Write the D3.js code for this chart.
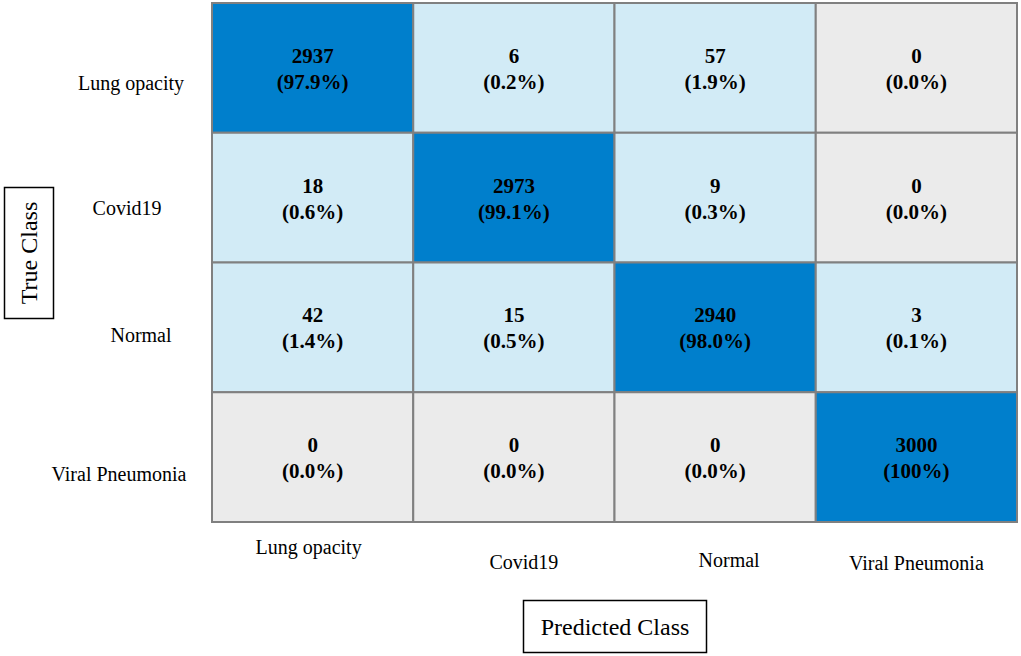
<!DOCTYPE html>
<html><head><meta charset="utf-8">
<script src="https://cdn.jsdelivr.net/npm/d3@7/dist/d3.min.js"></script>
<style>body{margin:0;background:#fff}svg{display:block}</style>
</head><body>
<svg id="c" width="1021" height="656"></svg>
<script>
const trueClasses = ["Lung opacity", "Covid19", "Normal", "Viral Pneumonia"];
const predClasses = ["Lung opacity", "Covid19", "Normal", "Viral Pneumonia"];
const counts = [
  [2937, 6, 57, 0],
  [18, 2973, 9, 0],
  [42, 15, 2940, 3],
  [0, 0, 0, 3000]
];
const percents = [
  ["97.9%", "0.2%", "1.9%", "0.0%"],
  ["0.6%", "99.1%", "0.3%", "0.0%"],
  ["1.4%", "0.5%", "98.0%", "0.1%"],
  ["0.0%", "0.0%", "0.0%", "100%"]
];
const xLabel = "Predicted Class";
const yLabel = "True Class";

// layout
const L = {left: 212, right: 1017, top: 3, bottom: 522};
const xTickY = [554, 569, 567, 570];   // staggered x label baselines
const xTickDx = [-4, 10, 14, 0];       // x label nudges from column centre
const yTickX = [131, 127, 141, 119];   // y label centres
const yTickDy = [22, 17, 15, 24];      // y label baseline offset from row centre

const svg = d3.select("#c");
const font = "'Liberation Serif','Times New Roman',serif";

const x = d3.scaleBand().domain(predClasses).range([L.left, L.right]);
const y = d3.scaleBand().domain(trueClasses).range([L.top, L.bottom]);

const cells = [];
counts.forEach((row, i) => row.forEach((v, j) => cells.push({i, j, v, p: percents[i][j]})));

const color = d => d.i === d.j ? "#007fcc" : (d.v > 0 ? "#d2ebf6" : "#ebebeb");

const g = svg.append("g");
g.selectAll("rect.cell").data(cells).join("rect")
  .attr("class", "cell")
  .attr("x", d => x(predClasses[d.j]))
  .attr("y", d => y(trueClasses[d.i]))
  .attr("width", x.bandwidth())
  .attr("height", y.bandwidth())
  .attr("fill", color)
  .attr("stroke", "#808080")
  .attr("stroke-width", 2);

const t = g.selectAll("text.v").data(cells).join("text")
  .attr("class", "v")
  .attr("text-anchor", "middle")
  .attr("font-family", font)
  .attr("font-weight", "bold")
  .attr("font-size", 21)
  .attr("fill", "#000");
t.append("tspan")
  .attr("x", d => x(predClasses[d.j]) + x.bandwidth() / 2)
  .attr("y", d => y(trueClasses[d.i]) + y.bandwidth() / 2 - 5)
  .text(d => d.v);
t.append("tspan")
  .attr("x", d => x(predClasses[d.j]) + x.bandwidth() / 2)
  .attr("y", d => y(trueClasses[d.i]) + y.bandwidth() / 2 + 21)
  .text(d => "(" + d.p + ")");

// y tick labels
svg.selectAll("text.yl").data(trueClasses).join("text")
  .attr("class", "yl")
  .attr("x", (d, i) => yTickX[i])
  .attr("y", (d, i) => y(d) + y.bandwidth() / 2 + yTickDy[i])
  .attr("text-anchor", "middle")
  .attr("font-family", font)
  .attr("font-size", 20)
  .text(d => d);

// x tick labels
svg.selectAll("text.xl").data(predClasses).join("text")
  .attr("class", "xl")
  .attr("x", (d, i) => x(d) + x.bandwidth() / 2 + xTickDx[i])
  .attr("y", (d, i) => xTickY[i])
  .attr("text-anchor", "middle")
  .attr("font-family", font)
  .attr("font-size", 20)
  .text(d => d);

// axis title boxes
svg.append("rect").attr("x", 523.5).attr("y", 600.5).attr("width", 183).attr("height", 52)
  .attr("fill", "none").attr("stroke", "#000").attr("stroke-width", 1.5);
svg.append("text").attr("x", 615).attr("y", 635).attr("text-anchor", "middle")
  .attr("font-family", font).attr("font-size", 24).text(xLabel);

svg.append("rect").attr("x", 4.5).attr("y", 187.5).attr("width", 49).attr("height", 131)
  .attr("fill", "none").attr("stroke", "#000").attr("stroke-width", 1.5);
svg.append("text").attr("transform", "translate(37,253) rotate(-90)").attr("text-anchor", "middle")
  .attr("font-family", font).attr("font-size", 24).text(yLabel);
</script>
</body></html>
